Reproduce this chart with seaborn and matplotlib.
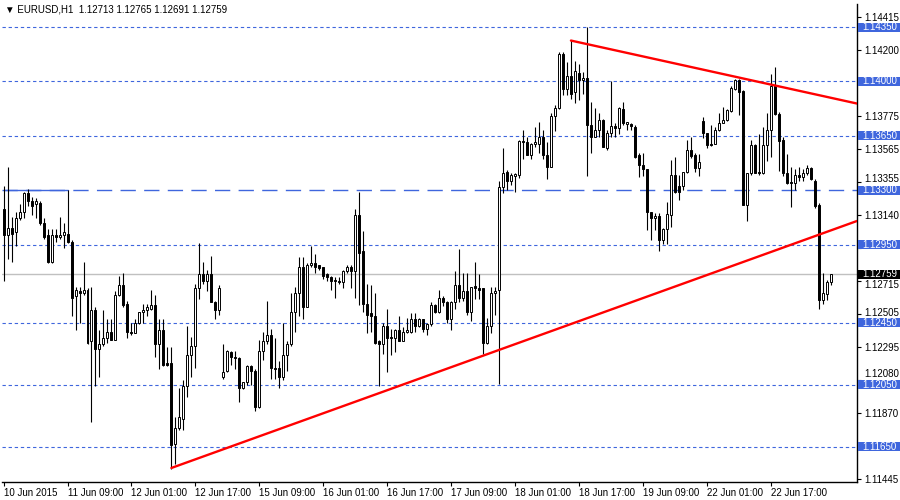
import matplotlib
matplotlib.use("Agg")
from matplotlib import pyplot as plt
from matplotlib.patches import Rectangle
from matplotlib.transforms import ScaledTranslation
import seaborn as sns

# EURUSD H1, one bar per hour from 10 Jun 2015 17:00
opens = [
    1.13180, 1.13010, 1.13060, 1.13030, 1.13120, 1.13160, 1.13280, 1.13230, 1.13210, 1.13220,
    1.13090, 1.13010, 1.12840, 1.13010, 1.13000, 1.13010, 1.13020, 1.12970, 1.12620, 1.12650,
    1.12640, 1.12660, 1.12330, 1.12530, 1.12280, 1.12310, 1.12350, 1.12390, 1.12340, 1.12630,
    1.12690, 1.12570, 1.12390, 1.12380, 1.12450, 1.12520, 1.12530, 1.12540, 1.12560, 1.12310,
    1.12400, 1.12190, 1.12190, 1.11670, 1.11770, 1.11830, 1.12040, 1.12240, 1.12300, 1.12670,
    1.12760, 1.12720, 1.12760, 1.12580, 1.12530, 1.12100, 1.12140, 1.12260, 1.12230, 1.12220,
    1.12030, 1.12070, 1.12170, 1.12140, 1.11910, 1.12270, 1.12330, 1.12370, 1.12160, 1.12160,
    1.12100, 1.12240, 1.12310, 1.12520, 1.12640, 1.12810, 1.12550, 1.12820, 1.12830, 1.12820,
    1.12810, 1.12760, 1.12740, 1.12725, 1.12720, 1.12710, 1.12780, 1.12810, 1.12780, 1.13140,
    1.12910, 1.12570, 1.12510, 1.12490, 1.12330, 1.12310, 1.12430, 1.12360, 1.12350, 1.12400,
    1.12330, 1.12390, 1.12390, 1.12470, 1.12430, 1.12470, 1.12410, 1.12440, 1.12560, 1.12520,
    1.12610, 1.12580, 1.12470, 1.12580, 1.12690, 1.12610, 1.12650, 1.12520, 1.12685, 1.12670,
    1.12670, 1.12320, 1.12430, 1.12640, 1.12660, 1.13320, 1.13420, 1.13360, 1.13395, 1.13400,
    1.13620, 1.13610, 1.13530, 1.13600, 1.13600, 1.13645, 1.13530, 1.13450, 1.13780, 1.13830,
    1.14175, 1.13950, 1.14034, 1.13930, 1.14056, 1.14010, 1.14020, 1.13720, 1.13640, 1.13690,
    1.13750, 1.13570, 1.13670, 1.13716, 1.13700, 1.13820, 1.13724, 1.13725, 1.13710, 1.13526,
    1.13460, 1.13434, 1.13163, 1.13120, 1.13136, 1.12982, 1.13050, 1.13142, 1.13398, 1.13330,
    1.13330, 1.13415, 1.13558, 1.13526, 1.13445, 1.13744, 1.13669, 1.13601, 1.13601, 1.13691,
    1.13735, 1.13750, 1.13810, 1.13953, 1.14011, 1.13938, 1.13206, 1.13409, 1.13590, 1.13415,
    1.13409, 1.13590, 1.13691, 1.13968, 1.13793, 1.13622, 1.13409, 1.13356, 1.13345, 1.13398,
    1.13388, 1.13409, 1.13445, 1.13360, 1.13206, 1.12598, 1.12634, 1.12713,
]
highs = [
    1.13330, 1.13450, 1.13130, 1.13160, 1.13210, 1.13290, 1.13310, 1.13260, 1.13250, 1.13230,
    1.13120, 1.13050, 1.13050, 1.13050, 1.13130, 1.13090, 1.13300, 1.12980, 1.12680, 1.12680,
    1.12840, 1.12670, 1.12680, 1.12550, 1.12400, 1.12530, 1.12470, 1.12470, 1.12650, 1.12750,
    1.12770, 1.12590, 1.12450, 1.12470, 1.12520, 1.12570, 1.12570, 1.12660, 1.12630, 1.12470,
    1.12470, 1.12290, 1.12290, 1.11840, 1.12030, 1.12080, 1.12430, 1.12360, 1.12700, 1.12960,
    1.12840, 1.12790, 1.12880, 1.12590, 1.12690, 1.12310, 1.12275, 1.12270, 1.12270, 1.12230,
    1.12070, 1.12180, 1.12180, 1.12150, 1.12340, 1.12390, 1.12590, 1.12410, 1.12350, 1.12200,
    1.12450, 1.12330, 1.12640, 1.12680, 1.12870, 1.12870, 1.12830, 1.12940, 1.12890, 1.12820,
    1.12810, 1.12770, 1.12750, 1.12740, 1.12740, 1.12790, 1.12820, 1.12820, 1.13180, 1.13290,
    1.13040, 1.12700, 1.12690, 1.12640, 1.12340, 1.12450, 1.12540, 1.12410, 1.12410, 1.12490,
    1.12420, 1.12480, 1.12510, 1.12510, 1.12480, 1.12470, 1.12450, 1.12580, 1.12570, 1.12660,
    1.12620, 1.12590, 1.12590, 1.12780, 1.12920, 1.12770, 1.12770, 1.12680, 1.12840, 1.12760,
    1.12675, 1.12480, 1.12680, 1.12680, 1.13360, 1.13570, 1.13430, 1.13410, 1.13410, 1.13625,
    1.13690, 1.13640, 1.13605, 1.13710, 1.13740, 1.13690, 1.13610, 1.13795, 1.13850, 1.14190,
    1.14190, 1.14126, 1.14265, 1.14130, 1.14115, 1.14060, 1.14350, 1.13870, 1.13830, 1.13800,
    1.13760, 1.13690, 1.14000, 1.13730, 1.13835, 1.13870, 1.13740, 1.13730, 1.13720, 1.13537,
    1.13540, 1.13440, 1.13163, 1.13153, 1.13153, 1.13057, 1.13227, 1.13494, 1.13516, 1.13398,
    1.13420, 1.13622, 1.13644, 1.13537, 1.13533, 1.13772, 1.13669, 1.13718, 1.13708, 1.13797,
    1.13836, 1.13825, 1.13968, 1.14017, 1.14017, 1.13942, 1.13413, 1.13622, 1.13601, 1.13665,
    1.13708, 1.13797, 1.14049, 1.14092, 1.13804, 1.13644, 1.13533, 1.13452, 1.13440, 1.13452,
    1.13440, 1.13460, 1.13452, 1.13373, 1.13217, 1.12769, 1.12726, 1.12765,
]
lows = [
    1.12720, 1.12860, 1.12840, 1.12940, 1.13110, 1.13120, 1.13200, 1.13140, 1.13120, 1.13080,
    1.12990, 1.12830, 1.12830, 1.12970, 1.12990, 1.12930, 1.12960, 1.12490, 1.12400, 1.12450,
    1.12630, 1.12310, 1.11810, 1.12040, 1.12100, 1.12300, 1.12320, 1.12340, 1.12340, 1.12620,
    1.12550, 1.12350, 1.12370, 1.12380, 1.12440, 1.12450, 1.12490, 1.12530, 1.12230, 1.12150,
    1.12170, 1.12170, 1.11510, 1.11540, 1.11760, 1.11760, 1.11970, 1.12100, 1.12160, 1.12600,
    1.12700, 1.12650, 1.12580, 1.12470, 1.12500, 1.12090, 1.12130, 1.12180, 1.12150, 1.11940,
    1.12020, 1.12050, 1.12050, 1.11880, 1.11900, 1.12210, 1.12310, 1.12090, 1.12090, 1.12030,
    1.12080, 1.12140, 1.12300, 1.12390, 1.12490, 1.12470, 1.12550, 1.12810, 1.12770, 1.12790,
    1.12730, 1.12720, 1.12660, 1.12610, 1.12700, 1.12670, 1.12770, 1.12670, 1.12610, 1.12560,
    1.12520, 1.12380, 1.12390, 1.12310, 1.12040, 1.12250, 1.12130, 1.12240, 1.12260, 1.12330,
    1.12330, 1.12380, 1.12380, 1.12390, 1.12420, 1.12390, 1.12370, 1.12430, 1.12510, 1.12510,
    1.12555, 1.12450, 1.12400, 1.12540, 1.12580, 1.12590, 1.12500, 1.12460, 1.12600, 1.12600,
    1.12245, 1.12315, 1.12380, 1.12500, 1.12056, 1.13280, 1.13300, 1.13335, 1.13290, 1.13380,
    1.13500, 1.13530, 1.13500, 1.13580, 1.13540, 1.13500, 1.13370, 1.13450, 1.13680, 1.13820,
    1.13910, 1.13910, 1.13890, 1.13860, 1.13880, 1.13920, 1.13390, 1.13540, 1.13640, 1.13640,
    1.13580, 1.13560, 1.13640, 1.13640, 1.13660, 1.13720, 1.13690, 1.13686, 1.13510, 1.13388,
    1.13390, 1.13046, 1.12982, 1.13046, 1.12907, 1.12956, 1.12956, 1.13067, 1.13280, 1.13238,
    1.13302, 1.13409, 1.13511, 1.13420, 1.13392, 1.13639, 1.13569, 1.13584, 1.13597, 1.13682,
    1.13730, 1.13746, 1.13804, 1.13947, 1.13782, 1.13206, 1.13106, 1.13400, 1.13409, 1.13400,
    1.13405, 1.13490, 1.13516, 1.13782, 1.13427, 1.13392, 1.13341, 1.13195, 1.13302, 1.13360,
    1.13362, 1.13398, 1.13366, 1.13189, 1.12534, 1.12566, 1.12598, 1.12691,
]
closes = [
    1.13010, 1.13060, 1.13020, 1.13120, 1.13160, 1.13280, 1.13230, 1.13200, 1.13230, 1.13090,
    1.13000, 1.12840, 1.13010, 1.13000, 1.13010, 1.13030, 1.12970, 1.12610, 1.12660, 1.12640,
    1.12660, 1.12320, 1.12530, 1.12280, 1.12310, 1.12350, 1.12390, 1.12340, 1.12630, 1.12690,
    1.12560, 1.12390, 1.12380, 1.12450, 1.12520, 1.12530, 1.12550, 1.12560, 1.12310, 1.12400,
    1.12180, 1.12180, 1.11660, 1.11770, 1.11840, 1.12040, 1.12240, 1.12300, 1.12670, 1.12760,
    1.12720, 1.12760, 1.12580, 1.12530, 1.12670, 1.12130, 1.12270, 1.12230, 1.12220, 1.12030,
    1.12070, 1.12170, 1.12140, 1.11910, 1.12270, 1.12330, 1.12370, 1.12160, 1.12150, 1.12100,
    1.12240, 1.12310, 1.12520, 1.12640, 1.12810, 1.12550, 1.12820, 1.12830, 1.12810, 1.12800,
    1.12750, 1.12740, 1.12720, 1.12720, 1.12710, 1.12780, 1.12810, 1.12780, 1.13140, 1.12900,
    1.12570, 1.12500, 1.12490, 1.12320, 1.12310, 1.12430, 1.12350, 1.12350, 1.12400, 1.12330,
    1.12390, 1.12400, 1.12470, 1.12430, 1.12470, 1.12410, 1.12440, 1.12560, 1.12520, 1.12610,
    1.12580, 1.12470, 1.12580, 1.12690, 1.12610, 1.12650, 1.12520, 1.12680, 1.12670, 1.12660,
    1.12320, 1.12430, 1.12640, 1.12650, 1.13320, 1.13410, 1.13360, 1.13400, 1.13406, 1.13620,
    1.13610, 1.13530, 1.13600, 1.13610, 1.13645, 1.13530, 1.13450, 1.13780, 1.13830, 1.14175,
    1.13950, 1.14034, 1.13920, 1.14066, 1.14010, 1.14020, 1.13720, 1.13640, 1.13690, 1.13750,
    1.13580, 1.13670, 1.13716, 1.13700, 1.13830, 1.13730, 1.13737, 1.13714, 1.13516, 1.13462,
    1.13435, 1.13163, 1.13125, 1.13136, 1.12982, 1.13050, 1.13146, 1.13398, 1.13287, 1.13287,
    1.13415, 1.13558, 1.13520, 1.13445, 1.13479, 1.13669, 1.13590, 1.13590, 1.13691, 1.13735,
    1.13750, 1.13814, 1.13959, 1.14011, 1.13932, 1.13206, 1.13409, 1.13590, 1.13409, 1.13409,
    1.13590, 1.13691, 1.13968, 1.13793, 1.13618, 1.13409, 1.13349, 1.13345, 1.13396, 1.13388,
    1.13409, 1.13445, 1.13373, 1.13200, 1.12598, 1.12641, 1.12713, 1.12759,
]

tick_bars = [0, 16, 32, 48, 64, 80, 96, 112, 128, 144, 160, 176, 192]
tick_labels = ["10 Jun 2015", "11 Jun 09:00", "12 Jun 01:00", "12 Jun 17:00",
               "15 Jun 09:00", "16 Jun 01:00", "16 Jun 17:00", "17 Jun 09:00",
               "18 Jun 01:00", "18 Jun 17:00", "19 Jun 09:00", "22 Jun 01:00",
               "22 Jun 17:00"]
# scale ticks; those covered by a level box carry no label
price_ticks = [1.14415, 1.14200, 1.13990, 1.13775, 1.13565, 1.13355, 1.13140,
               1.12930, 1.12715, 1.12505, 1.12295, 1.12080, 1.11870, 1.11660,
               1.11445]
price_tick_labels = ["1.14415", "1.14200", "", "1.13775", "1.13565", "1.13355",
                     "1.13140", "", "1.12715", "1.12505", "1.12295", "1.12080",
                     "1.11870", "", "1.11445"]

dotted_levels = [1.14350, 1.14000, 1.13650, 1.12950, 1.12450, 1.12050, 1.11650]
dashed_level = 1.13300
bid = 1.12759

# trend lines: (bar, price) end points
support_x = [42, 213.6]
support_y = [1.11515, 1.13103]
resist_x = [142, 213.6]
resist_y = [1.14263, 1.13858]
old_line_x = [0, 16]
old_line_y = [1.13300, 1.13300]

blue = "#3f66dd"
ymin, ymax = 1.11428, 1.14498

sns.set_style("white")
plt.rcParams["font.family"] = ["Liberation Sans", "DejaVu Sans"]

fig = plt.figure(figsize=(9, 5), dpi=100)
ax = fig.add_axes([2 / 900, 18.5 / 500, 855 / 900, 477.5 / 500])

# level lines
for lv in dotted_levels:
    ax.axhline(lv, color=blue, lw=0.8, ls=(0, (3, 2.5)), zorder=1)
ax.axhline(dashed_level, color=blue, lw=1.0, ls=(0, (11, 6)), zorder=1)
ax.plot(old_line_x, old_line_y, color=blue, lw=1.0, zorder=1)
ax.axhline(bid, color="#c0c0c0", lw=1.0, zorder=1)

# candles
n = len(opens)
idx = list(range(n))
ax.vlines(idx, lows, highs, color="black", lw=0.8, zorder=3)
bottoms = [min(o, c) for o, c in zip(opens, closes)]
heights = [max(abs(c - o), 0.00002) for o, c in zip(opens, closes)]
fills = ["white" if c >= o else "black" for o, c in zip(opens, closes)]
ax.bar(idx, heights, bottom=bottoms, width=0.5, color=fills,
       edgecolor="black", linewidth=0.7, zorder=4)

sns.lineplot(x=support_x, y=support_y, color="red", lw=1.7, ax=ax, zorder=5)
sns.lineplot(x=resist_x, y=resist_y, color="red", lw=1.7, ax=ax, zorder=5)

ax.set_xlim(-0.4, 213.6)
ax.set_ylim(ymin, ymax)

ax.set_xticks(tick_bars)
ax.set_xticklabels(tick_labels, ha="left", fontsize=7)
ax.yaxis.tick_right()
ax.set_yticks(price_ticks)
ax.set_yticklabels(price_tick_labels, fontsize=7)
ax.tick_params(axis="x", direction="out", length=3, width=0.8, pad=2,
               bottom=True, colors="black")
ax.tick_params(axis="y", direction="out", length=3, width=0.8, pad=2,
               right=True, left=False, colors="black")
for side in ["top", "left"]:
    ax.spines[side].set_visible(False)
for side in ["right", "bottom"]:
    ax.spines[side].set_color("black")
    ax.spines[side].set_linewidth(1.0)
ax.set_xlabel("")
ax.set_ylabel("")

# labels next to a level box are nudged clear of it (pixels, + is up)
nudge = {"1.13355": 4, "1.12080": 7, "1.12505": 2, "1.12715": -3}
for lab in ax.get_yticklabels():
    if lab.get_text() in nudge:
        lab.set_transform(lab.get_transform() +
                          ScaledTranslation(0, nudge[lab.get_text()] / 100, fig.dpi_scale_trans))

# price boxes on the right scale
trans = ax.get_yaxis_transform()
half = 4.5 * (ymax - ymin) / 477.5
box_w = 42 / 855
for lv in dotted_levels + [dashed_level]:
    ax.add_patch(Rectangle((1 + 1 / 855, lv - half), box_w, 2 * half,
                           transform=trans, facecolor=blue, edgecolor="none",
                           clip_on=False, zorder=10))
    ax.text(1 + 5 / 855, lv, f"{lv:.5f}", transform=trans, color="white",
            fontsize=7, va="center", ha="left", clip_on=False, zorder=11)
ax.add_patch(Rectangle((1 + 1 / 855, bid - half), box_w, 2 * half,
                       transform=trans, facecolor="black", edgecolor="none",
                       clip_on=False, zorder=10))
ax.text(1 + 5 / 855, bid, f"{bid:.5f}", transform=trans, color="white",
        fontsize=7, va="center", ha="left", clip_on=False, zorder=11)

fig.text(5 / 900, 1 - 10 / 500, "\u25bc EURUSD,H1  1.12713 1.12765 1.12691 1.12759",
         fontsize=7, va="center", ha="left", color="black")

fig.savefig("out.png", dpi=100)
